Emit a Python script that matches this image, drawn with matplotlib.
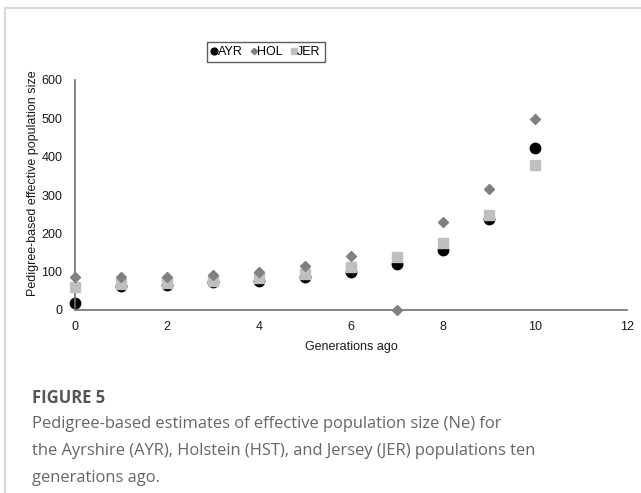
import matplotlib
matplotlib.use("Agg")
import matplotlib.pyplot as plt
from matplotlib.lines import Line2D

# Data
generations = [0, 1, 2, 3, 4, 5, 6, 7, 8, 9, 10]
ayr = [18, 62, 66, 72, 75, 87, 100, 120, 157, 237, 423]
hol = [86, 86, 87, 92, 100, 116, 141, 0, 230, 316, 498]
jer = [60, 68, 70, 75, 83, 95, 112, 139, 176, 248, 378]

x_ticks = [0, 2, 4, 6, 8, 10, 12]
y_ticks = [0, 100, 200, 300, 400, 500, 600]

W, H = 641, 493
fig = plt.figure(figsize=(W / 100, H / 100), dpi=100)
fig.patch.set_facecolor("white")

# light frame around the figure panel
frame_col = "#d9d9d9"
fig.add_artist(Line2D([5 / W, 1], [1 - 8 / H, 1 - 8 / H], color=frame_col, lw=1.5))
fig.add_artist(Line2D([5 / W, 5 / W], [0, 1 - 8 / H], color=frame_col, lw=1.5))

ax = fig.add_axes([75 / W, 1 - 310 / H, (627 - 75) / W, (310 - 80) / H])
ax.set_xlim(0, 12)
ax.set_ylim(0, 600)

ax.plot(generations, jer, linestyle="none", marker="s", markersize=7,
        color="#bfbfbf", label="JER", zorder=3, clip_on=False)
ax.plot(generations, ayr, linestyle="none", marker="o", markersize=7.5,
        color="black", label="AYR", zorder=2, clip_on=False)
ax.plot(generations, hol, linestyle="none", marker="D", markersize=5,
        color="#808080", label="HOL", zorder=4, clip_on=False)

for s in ["top", "right"]:
    ax.spines[s].set_visible(False)
for s in ["left", "bottom"]:
    ax.spines[s].set_color("#707070")
    ax.spines[s].set_linewidth(1.2)

ax.set_xticks(x_ticks)
ax.set_yticks(y_ticks)
ax.tick_params(length=0, labelsize=9, labelcolor="#1a1a1a")
ax.tick_params(axis="x", pad=8)
ax.tick_params(axis="y", pad=9)
for lab in ax.get_xticklabels() + ax.get_yticklabels():
    lab.set_fontfamily("Liberation Sans")

ax.set_xlabel("Generations ago", fontsize=9, family="Liberation Sans",
              color="#1a1a1a", labelpad=6)
fig.text(33 / W, 1 - 183 / H, "Pedigree-based effective population size",
         rotation=90, ha="center", va="center", fontsize=9,
         family="Liberation Sans", color="#1a1a1a")

handles, labels = ax.get_legend_handles_labels()
order = [1, 2, 0]
leg = fig.legend([handles[i] for i in order], [labels[i] for i in order],
                 loc="center", bbox_to_anchor=(266 / W, 1 - 52 / H), ncol=3,
                 frameon=True, fancybox=False, edgecolor="#333333",
                 handlelength=0.5, handletextpad=0.05, columnspacing=0.6,
                 borderpad=0.35, prop={"family": "Liberation Sans", "size": 9},
                 markerscale=0.65)
leg.get_frame().set_linewidth(1.0)

fig.text(32 / W, 1 - 398 / H, "FIGURE 5", fontsize=12, fontweight="bold",
         family="Open Sans", color="#555555", va="center")
caption = ("Pedigree-based estimates of effective population size (Ne) for\n"
           "the Ayrshire (AYR), Holstein (HST), and Jersey (JER) populations ten\n"
           "generations ago.")
fig.text(32 / W, 1 - 416 / H, caption, fontsize=11.9, family="Open Sans",
         color="#666666", va="top", linespacing=1.9)

fig.savefig("out.png", dpi=100, facecolor="white")
